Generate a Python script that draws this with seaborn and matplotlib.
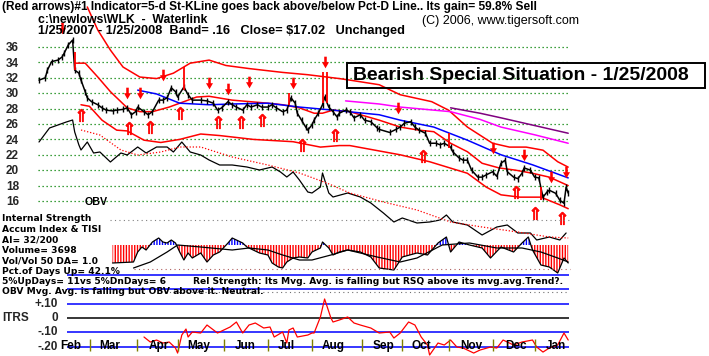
import numpy as np
import matplotlib
matplotlib.use("Agg")
import matplotlib.pyplot as plt
from matplotlib.patches import Rectangle
from matplotlib.path import Path
import seaborn as sns

sns.set_theme(style="white")
plt.rcParams["font.family"] = ["Liberation Sans", "DejaVu Sans"]
plt.rcParams["hatch.linewidth"] = 1.0

# ---------------- data (x = trading day index since 1/25/2007) ----------------
price_days = [0, 3, 4, 6, 9, 11, 12, 14, 16, 17, 19, 20, 22, 23, 25, 28, 30, 32, 35, 37,
              40, 42, 44, 46, 47, 50, 52, 54, 57, 59, 61, 63, 65, 66, 69, 71, 73, 77, 80, 83,
              85, 87, 90, 92, 94, 97, 99, 101, 104, 106, 109, 111, 113, 116, 118, 120, 122, 123, 125, 127,
              128, 130, 131, 133, 135, 136, 138, 140, 142, 143, 146, 148, 150, 153, 155, 158, 161, 162, 167, 170,
              172, 174, 177, 179, 181, 184, 186, 189, 191, 193, 196, 197, 200, 202, 204, 206, 209, 211, 213, 216,
              218, 220, 222, 223, 226, 228, 230, 231, 234, 236, 238, 240, 242, 243, 246, 248, 250, 251, 252]
price_close = [31.7, 32.0, 33.0, 34.1, 34.3, 34.7, 35.2, 36.3, 36.9, 33.0, 32.6, 31.7, 30.2, 29.4, 28.9, 28.5, 28.1, 27.8, 27.7, 27.8,
               27.9, 28.1, 27.2, 27.6, 28.2, 27.6, 27.2, 27.6, 29.1, 29.1, 29.4, 30.7, 30.2, 29.5, 30.8, 29.8, 29.1, 29.1, 29.0, 28.7,
               27.8, 28.1, 28.9, 28.5, 28.2, 27.8, 28.5, 28.2, 28.5, 28.2, 28.2, 28.5, 28.1, 27.6, 27.8, 29.4, 28.7, 27.4, 26.5, 25.6,
               25.2, 25.9, 26.5, 27.4, 28.5, 29.5, 28.2, 27.6, 26.9, 27.4, 27.8, 27.6, 26.8, 27.2, 26.5, 26.3, 25.5, 25.3, 24.9, 25.3,
               25.6, 26.1, 26.3, 25.6, 25.2, 24.8, 23.5, 23.5, 23.3, 23.5, 23.0, 22.4, 21.6, 21.3, 21.3, 20.0, 19.1, 19.1, 19.4, 19.8,
               19.2, 20.9, 21.3, 19.8, 19.1, 18.9, 19.6, 20.3, 20.0, 19.1, 19.0, 16.5, 17.2, 17.4, 17.0, 16.1, 15.7, 17.8, 17.02]

signal_bar_days = [17, 69, 119, 135, 137, 195, 239]
signal_bar_high = [35.4, 33.4, 30.0, 32.8, 32.8, 24.8, 17.8]
signal_bar_low = [33.0, 30.4, 28.5, 28.7, 28.7, 22.9, 16.1]

upper_days = [23, 28, 34, 40, 48, 56, 64, 72, 81, 89, 100, 116, 128, 143, 148, 162, 172, 187, 195, 204, 212, 216, 224, 232, 240, 247, 252]
upper_band = [41.2, 38.2, 35.6, 33.4, 32.1, 31.9, 32.6, 33.9, 34.3, 33.6, 33.2, 32.7, 32.4, 31.9, 31.7, 31.1, 29.8, 28.9, 27.8, 25.6, 24.2, 23.5, 23.0, 23.0, 22.6, 21.1, 20.4]

mid_days = [17, 22, 28, 34, 42, 48, 54, 62, 69, 75, 81, 92, 109, 116, 124, 131, 135, 140, 148, 162, 172, 181, 188, 196, 204, 211, 219, 227, 235, 243, 252]
mid_ma = [33.9, 33.9, 32.1, 30.2, 28.1, 27.6, 27.6, 28.2, 28.9, 29.5, 29.6, 29.1, 28.7, 28.5, 28.1, 27.4, 27.4, 27.8, 27.6, 26.5, 25.6, 25.2, 25.0, 23.5, 22.4, 20.9, 20.3, 20.0, 19.6, 19.1, 18.0]

lower_days = [20, 24, 30, 37, 42, 50, 58, 67, 77, 86, 102, 121, 134, 143, 148, 164, 172, 186, 204, 213, 220, 229, 239, 248, 252]
lower_band = [28.5, 28.3, 26.5, 25.2, 25.1, 23.9, 23.6, 24.0, 24.7, 24.5, 24.0, 23.7, 23.0, 23.2, 23.2, 22.4, 22.0, 21.1, 19.6, 17.8, 16.8, 16.5, 16.5, 15.5, 15.0]

blue_days = [47, 56, 67, 81, 92, 109, 124, 140, 162, 172, 188, 204, 220, 235, 252]
blue_ma = [30.4, 29.9, 28.7, 28.5, 28.6, 28.7, 28.2, 27.8, 27.2, 26.5, 25.6, 23.9, 22.0, 20.7, 19.0]

magenta_days = [146, 162, 172, 196, 210, 220, 236, 252]
magenta_ma = [29.0, 28.6, 28.2, 27.6, 26.6, 25.6, 24.6, 23.5]

purple_days = [196, 210, 220, 236, 252]
purple_ma = [28.1, 27.4, 26.8, 25.8, 24.8]

down_arrow_days = [11, 42, 48, 59, 81, 90, 100, 121, 136, 171, 216, 231, 244, 251]
down_arrow_price = [38.5, 30.0, 30.0, 32.4, 31.3, 30.5, 31.5, 31.3, 34.1, 28.1, 22.9, 22.0, 19.1, 19.8]
up_arrow_days = [20, 43, 53, 67, 85, 96, 106, 125, 141, 183, 227, 236, 249]
up_arrow_price = [27.2, 25.5, 25.6, 27.4, 26.3, 26.3, 26.5, 23.3, 24.6, 21.8, 17.2, 14.4, 13.8]

obv_days = [0, 5, 9, 13, 16, 17, 19, 20, 23, 26, 29, 34, 39, 42, 47, 51, 56, 61, 64, 68,
            72, 77, 81, 86, 92, 99, 105, 111, 115, 118, 121, 124, 128, 130, 134, 135, 138, 140, 147, 153,
            158, 164, 169, 173, 180, 186, 191, 194, 197, 204, 211, 218, 223, 228, 234, 237, 243, 248, 251]
obv = [10.8, 12.2, 12.5, 12.8, 13.0, 11.8, 10.5, 10.0, 10.8, 9.7, 9.8, 8.8, 9.7, 9.5, 10.3, 9.7, 10.3, 10.3, 9.8, 10.8,
       9.8, 9.5, 9.0, 8.5, 8.5, 8.3, 8.0, 8.3, 7.8, 7.3, 7.8, 7.0, 5.8, 5.7, 6.3, 7.7, 5.7, 5.3, 5.7, 5.3,
       4.7, 3.7, 2.8, 3.2, 2.7, 2.8, 3.0, 3.5, 2.8, 2.5, 1.5, 2.3, 2.5, 1.7, 1.7, 1.0, 1.3, 1.0, 1.7]
obv_ma_days = [20, 29, 39, 47, 58, 67, 77, 92, 109, 124, 137, 148, 164, 180, 196, 211, 228, 243, 252]
obv_ma = [12.0, 11.5, 10.0, 9.5, 9.8, 10.3, 10.3, 9.3, 8.5, 7.7, 6.7, 5.7, 4.8, 4.0, 2.8, 2.3, 1.8, 1.3, 1.2]

ai_days = [35, 45, 47, 49, 51, 54, 57, 59, 61, 63, 65, 67, 69, 71, 73, 77, 80, 83, 86, 90,
           92, 94, 97, 99, 102, 105, 109, 111, 114, 116, 118, 121, 124, 128, 130, 134, 135, 138, 140, 143,
           147, 153, 158, 162, 169, 173, 180, 185, 190, 194, 196, 200, 205, 211, 215, 220, 226, 230, 233, 235,
           239, 243, 247, 250, 252]
ai = [-180, -170, -70, -20, -50, 30, 70, 30, 20, 50, 20, -70, -150, -80, -130, -80, -170, -100, -70, 20,
      70, 50, 20, -20, -50, -80, -100, -180, -220, -230, -170, -130, -120, -130, -70, -30, 30, -30, -100, -70,
      -50, -70, -120, -230, -250, -120, -80, -100, 20, 80, -70, 30, 0, -30, -130, -20, -70, 20, 80, -50,
      -200, -220, -280, -130, -180]
ai_ma_days = [45, 53, 61, 66, 77, 92, 100, 109, 116, 124, 130, 139, 147, 161, 172, 180, 192, 205, 218, 230, 239, 247, 252]
ai_ma = [-230, -170, -70, 0, -20, -50, -30, -50, -100, -150, -150, -100, -50, -120, -170, -130, 0, 20, -30, -30, -70, -130, -170]

itrs_days = [50, 53, 56, 59, 62, 65, 66, 68, 70, 71, 73, 77, 80, 85, 88, 91, 94, 97, 100, 103,
             107, 110, 112, 116, 118, 119, 121, 123, 128, 130, 131, 134, 136, 139, 140, 143, 147, 150, 153, 158,
             162, 167, 169, 172, 176, 179, 182, 185, 186, 190, 193, 196, 199, 202, 207, 210, 215, 218, 221, 226,
             230, 235, 237, 240, 243, 247, 250, 252]
itrs = [-0.133, -0.168, -0.154, -0.175, -0.168, -0.21, -0.245, -0.119, -0.077, -0.133, -0.098, -0.105, -0.049, -0.105, -0.084, -0.063, -0.028, -0.105, -0.049, -0.035,
        -0.07, -0.063, -0.133, -0.098, -0.175, -0.084, -0.07, -0.133, -0.119, -0.105, -0.105, 0.007, 0.133, 0.0, -0.028, -0.014, 0.007, -0.035, -0.049, -0.07,
        -0.105, -0.098, -0.14, -0.105, -0.028, -0.049, -0.133, -0.189, -0.259, -0.175, -0.189, -0.154, -0.203, -0.21, -0.245, -0.224, -0.203, -0.21, -0.154, -0.189,
        -0.168, -0.154, -0.203, -0.238, -0.21, -0.189, -0.105, -0.154]

price_grid = [36, 34, 32, 30, 28, 26, 24, 22, 20, 18, 16]
itrs_blue_levels = [0.3, 0.2, 0.1, -0.1, -0.2]
itrs_labels = ["+.10", "0", "-.10", "-.20"]
itrs_label_vals = [0.1, 0.0, -0.1, -0.2]
month_names = ["Feb", "Mar", "Apr", "May", "Jun", "Jul", "Aug", "Sep", "Oct", "Nov", "Dec", "Jan"]
month_label_days = [15.2, 33.8, 57, 76, 98, 118, 140, 164, 182, 206, 227, 246]
month_tick_days = [24.3, 46.7, 66.2, 88.1, 109, 130, 153.8, 172.9, 195.2, 216.2, 236.2]

# ---------------- layout ----------------
W, H = 709, 356
fig = plt.figure(figsize=(W / 100, H / 100), dpi=100)
fig.patch.set_facecolor("white")
XMIN, XMAX = -39 / 2.1, (W - 39) / 2.1


def panel(y0, y1, ylim):
    ax = fig.add_axes([0, 1 - y1 / H, 1, (y1 - y0) / H])
    ax.set_xlim(XMIN, XMAX)
    ax.set_ylim(*ylim)
    ax.axis("off")
    ax.patch.set_alpha(0)
    return ax


ax_p = panel(0, 225, (36 - 178 / 7.7, 36 + 47 / 7.7))
ax_o = panel(0, 250, (0, 25))
ax_a = panel(205, 285, (-400, 400))
ax_i = panel(262, 356, ((318 - 356) / 143, (318 - 262) / 143))

RED, BLUE = "#ff0000", "#0000ff"

# price grid
ax_p.hlines(price_grid, -0.5, 253, colors="#008000", linestyles=(0, (1, 2.2)), lw=0.9)

# bands and averages
sns.lineplot(x=upper_days, y=upper_band, ax=ax_p, color=RED, lw=1.1, sort=False)
sns.lineplot(x=mid_days, y=mid_ma, ax=ax_p, color=RED, lw=1.1, sort=False)
sns.lineplot(x=lower_days, y=lower_band, ax=ax_p, color=RED, lw=1.1, sort=False)
sns.lineplot(x=blue_days, y=blue_ma, ax=ax_p, color=BLUE, lw=1.1, sort=False)
sns.lineplot(x=magenta_days, y=magenta_ma, ax=ax_p, color="#ff00ff", lw=1.1, sort=False)
sns.lineplot(x=purple_days, y=purple_ma, ax=ax_p, color="#800080", lw=1.1, sort=False)

# price
sns.lineplot(x=price_days, y=price_close, ax=ax_p, color="black", lw=1.1, sort=False,
             marker="|", markersize=4, markeredgewidth=1.0, markeredgecolor="black")
ax_p.vlines(signal_bar_days, signal_bar_low, signal_bar_high, colors=RED, lw=1.3)

# arrows
down_marker = Path([(-0.22, 1), (0.22, 1), (0.22, 0.05), (0.6, 0.05), (0, -1), (-0.6, 0.05), (-0.22, 0.05), (-0.22, 1)],
                   [1, 2, 2, 2, 2, 2, 2, 79])
ax_p.scatter(down_arrow_days, down_arrow_price, marker=down_marker, s=70, color=RED, linewidths=0, zorder=5)
ax_p.scatter(up_arrow_days, up_arrow_price, marker=r"$\Uparrow$", s=80, color=RED, edgecolors=RED,
             linewidths=0.6, zorder=5)

# OBV
sns.lineplot(x=obv_days, y=obv, ax=ax_o, color="black", lw=0.9, sort=False)
sns.lineplot(x=obv_ma_days, y=obv_ma, ax=ax_o, color=RED, lw=0.9, ls=(0, (1, 1.5)), sort=False)

# Accumulation index
ai_arr = np.array(ai, dtype=float)
ax_a.fill_between(ai_days, 0, ai_arr, where=ai_arr <= 0, interpolate=True, facecolor="none",
                  edgecolor=RED, hatch="||||||", linewidth=0)
ax_a.fill_between(ai_days, 0, ai_arr, where=ai_arr >= 0, interpolate=True, facecolor="none",
                  edgecolor=BLUE, hatch="||||||", linewidth=0)
sns.lineplot(x=ai_days, y=ai, ax=ax_a, color="black", lw=0.9, sort=False)
sns.lineplot(x=ai_ma_days, y=ai_ma, ax=ax_a, color="black", lw=0.9, sort=False)
ax_a.hlines([250], 34, 253, colors="#808080", linestyles=(0, (1, 3)), lw=0.8)
ax_a.hlines([-240], 45, 253, colors="#b06060", linestyles=(0, (1, 3)), lw=0.8)

# ITRS
ax_i.hlines(itrs_blue_levels, 13.3, 252.5, colors=BLUE, lw=1.1)
ax_i.hlines([0], 13.3, 252.5, colors="black", lw=1.1)
ax_i.hlines([(318 - 292) / 143], 60, 252.5, colors="#707070", linestyles=(0, (1, 3)), lw=0.8)
sns.lineplot(x=itrs_days, y=itrs, ax=ax_i, color=RED, lw=0.9, sort=False)
ax_i.vlines(month_tick_days, (318 - 351) / 143, (318 - 339) / 143, colors="#808000", lw=1.0)
for name, d in zip(month_names, month_label_days):
    ax_i.text(d, (318 - 346) / 143, name, ha="center", va="center", fontsize=8.5,
              fontweight="bold", color="black")
for lab, v in zip(itrs_labels, itrs_label_vals):
    ax_i.text(58 / W, v, lab, transform=ax_i.get_yaxis_transform(), ha="right", va="center",
              fontsize=8.5, fontweight="bold")
ax_i.text(2 / W, 0.0, "ITRS", transform=ax_i.get_yaxis_transform(), ha="left", va="center",
          fontsize=8.5, fontweight="bold")

# price labels
for p in price_grid:
    ax_p.text(6 / W, p - 0.15, str(p), transform=ax_p.get_yaxis_transform(), ha="left", va="center",
              fontsize=8.5, fontweight="bold")

# ---------------- text ----------------
renderer = fig.canvas.get_renderer()


def ftext(x0, x1, yc, s, weight="bold", size=8.0, family=None):
    kw = {} if family is None else {"family": family}
    t = fig.text(x0 / W, 1 - yc / H, s, fontsize=size, fontweight=weight, va="center", ha="left",
                 color="black", **kw)
    if x1 is not None:
        bb = t.get_window_extent(renderer)
        t.set_fontsize(size * (x1 - x0) / bb.width)
    return t


ftext(2, 537, 7, "(Red arrows)#1 Indicator=5-d St-KLine goes back above/below Pct-D Line.. Its gain= 59.8% Sell")
ftext(38, 208, 20, "c:\\newlows\\WLK  -  Waterlink")
ftext(422, 580, 21, "(C) 2006, www.tigersoft.com", weight="normal")
ftext(38, 407, 31, "1/25/2007 - 1/25/2008  Band= .16   Close= $17.02   Unchanged")
ftext(353, 692, 76, "Bearish Special Situation - 1/25/2008")
fig.add_artist(Rectangle((347 / W, 1 - 88 / H), (705 - 347) / W, 25 / H, transform=fig.transFigure,
                         fill=False, ec="black", lw=1.4))

# left information block: wide bold face, one common size, compact line pitch
BF = ["DejaVu Sans"]
ref = ftext(2, 133, 271, "Pct.of Days Up= 42.1%", family=BF)
bsize = min(ref.get_fontsize(), 6.6)
ref.set_fontsize(bsize)
ftext(85, 108, 202, "OBV", size=8.5)
ftext(2, None, 218.5, "Internal Strength", size=bsize, family=BF)
ftext(2, None, 229.1, "Accum Index & TISI", size=bsize, family=BF)
ftext(2, None, 239.6, "AI= 32/200", size=bsize, family=BF)
ftext(2, None, 250.1, "Volume= 3698", size=bsize, family=BF)
ftext(2, None, 260.6, "Vol/Vol 50 DA= 1.0", size=bsize, family=BF)
ftext(2, None, 281.5, "5%UpDays= 11vs 5%DnDays= 6", size=bsize, family=BF)
ftext(193, None, 281.5, "Rel Strength: Its Mvg. Avg. is falling but RSQ above its mvg.avg.Trend?.",
      size=bsize, family=BF)
ftext(2, None, 292, "OBV Mvg. Avg. is falling but OBV above it. Neutral.", size=bsize, family=BF)

fig.savefig("out.png", dpi=100, facecolor="white")
